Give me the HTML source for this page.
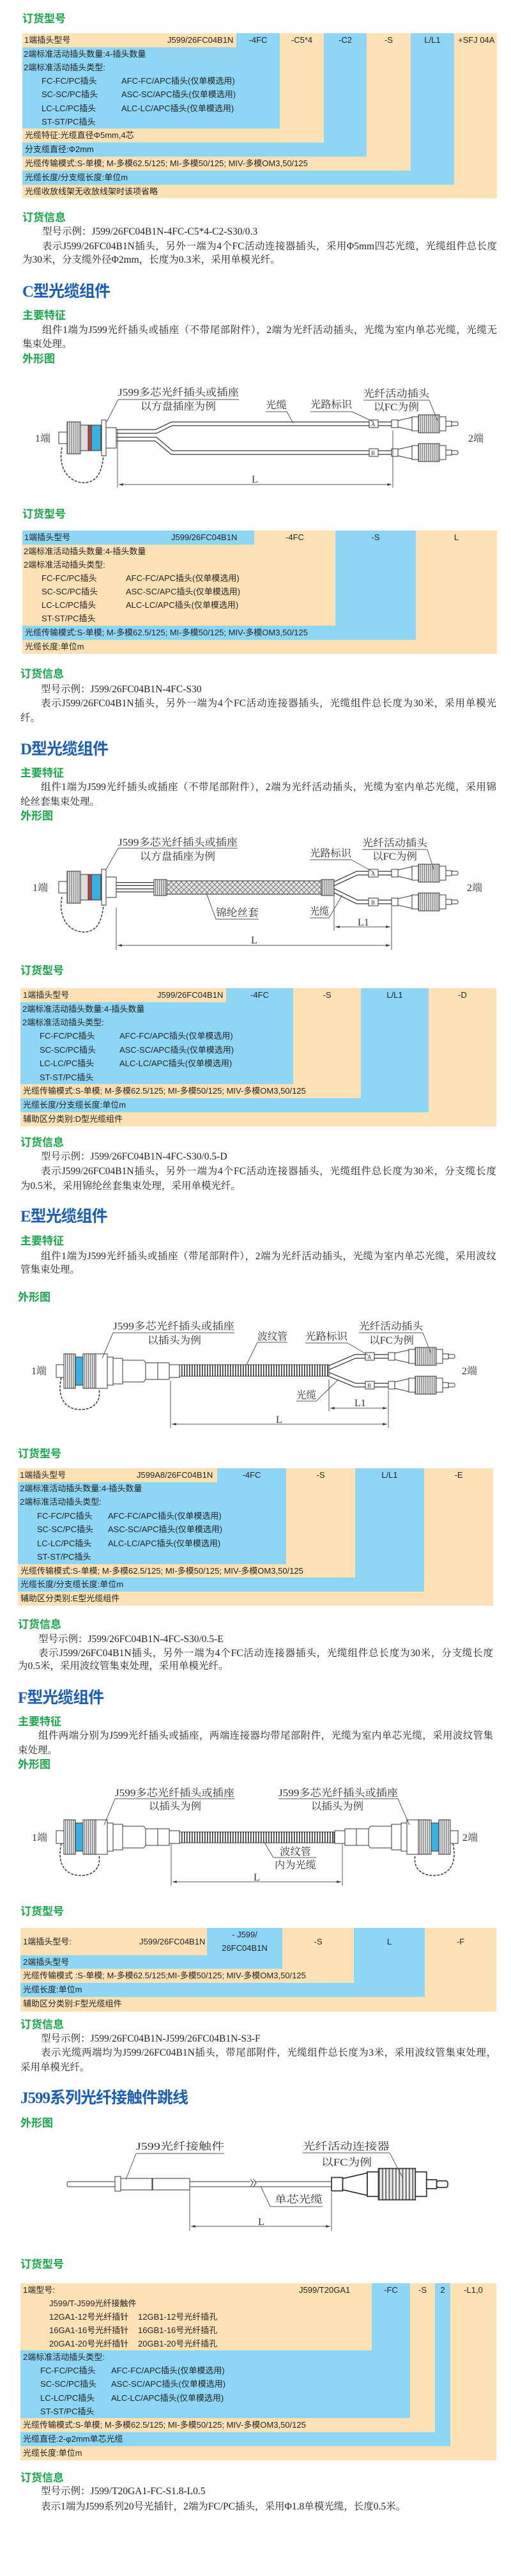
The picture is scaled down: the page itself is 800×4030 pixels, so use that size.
<!DOCTYPE html>
<html><head><meta charset="utf-8">
<style>
html,body{margin:0;padding:0;background:#fff}
body{width:800px;height:4030px;position:relative;overflow:hidden}
.p{position:absolute;font-size:15.5px;font-family:"Liberation Serif","Noto Serif CJK SC",serif;color:#222;white-space:nowrap;line-height:18px;height:18px}
.j{white-space:normal;text-align:justify;text-align-last:justify;overflow:hidden}
.g{position:absolute;font:bold 17px/20px "Liberation Sans","Noto Sans CJK SC",sans-serif;color:#19a64b;white-space:nowrap}
.b{position:absolute;font:bold 25px/30px "Liberation Serif","Noto Sans CJK SC",sans-serif;color:#1a5fb4;white-space:nowrap;letter-spacing:-1px}
.r{position:absolute}
.o{background:#fee2b6}
.u{background:#8dd6f6}
.c{position:absolute;font:13px/16px "Liberation Sans","Noto Sans CJK SC",sans-serif;color:#222;white-space:nowrap}
.m{text-align:center}
svg{position:absolute;left:0;top:0}
</style></head><body>

<!-- ===== Section 1 (top) ===== -->
<div class="g" style="left:35px;top:20px">订货型号</div>
<div class="r o" style="left:35px;top:52px;width:743px;height:258px"></div>
<div class="r u" style="left:370px;top:52px;width:68px;height:149px"></div>
<div class="r u" style="left:35px;top:74px;width:403px;height:127px"></div>
<div class="r u" style="left:507px;top:52px;width:67px;height:193px"></div>
<div class="r u" style="left:35px;top:223px;width:539px;height:22px"></div>
<div class="r u" style="left:643px;top:52px;width:68px;height:237px"></div>
<div class="r u" style="left:35px;top:267px;width:676px;height:22px"></div>
<div class="c" style="left:38px;top:55px">1端插头型号</div>
<div class="c" style="left:262px;top:55px">J599/26FC04B1N</div>
<div class="c m" style="left:370px;width:68px;top:55px">-4FC</div>
<div class="c m" style="left:438px;width:69px;top:55px">-C5*4</div>
<div class="c m" style="left:507px;width:67px;top:55px">-C2</div>
<div class="c m" style="left:574px;width:69px;top:55px">-S</div>
<div class="c m" style="left:643px;width:68px;top:55px">L/L1</div>
<div class="c" style="left:717px;top:55px">+SFJ 04A</div>
<div class="c" style="left:37px;top:77px">2端标准活动插头数量:4-插头数量</div>
<div class="c" style="left:37px;top:98px">2端标准活动插头类型:</div>
<div class="c" style="left:65px;top:119px">FC-FC/PC插头</div><div class="c" style="left:190px;top:119px">AFC-FC/APC插头(仅单模选用)</div>
<div class="c" style="left:65px;top:140px">SC-SC/PC插头</div><div class="c" style="left:190px;top:140px">ASC-SC/APC插头(仅单模选用)</div>
<div class="c" style="left:65px;top:162px">LC-LC/PC插头</div><div class="c" style="left:190px;top:162px">ALC-LC/APC插头(仅单模选用)</div>
<div class="c" style="left:65px;top:183px">ST-ST/PC插头</div>
<div class="c" style="left:39px;top:204px">光缆特征:光缆直径Φ5mm,4芯</div>
<div class="c" style="left:39px;top:226px">分支缆直径:Φ2mm</div>
<div class="c" style="left:39px;top:248px">光缆传输模式:S-单模; M-多模62.5/125; MI-多模50/125; MIV-多模OM3,50/125</div>
<div class="c" style="left:39px;top:270px">光缆长度/分支缆长度:单位m</div>
<div class="c" style="left:39px;top:292px">光缆收放线架无收放线架时该项省略</div>

<div class="g" style="left:35px;top:331px">订货信息</div>
<div class="p" style="left:66px;top:354px">型号示例：J599/26FC04B1N-4FC-C5*4-C2-S30/0.3</div>
<div class="p j" style="left:66px;top:377px;width:712px">表示J599/26FC04B1N插头，另外一端为4个FC活动连接器插头，采用Φ5mm四芯光缆，光缆组件总长度</div>
<div class="p" style="left:35px;top:398px">为30米，分支缆外径Φ2mm，长度为0.3米，采用单模光纤。</div>

<!-- ===== C ===== -->
<div class="b" style="left:35px;top:442px">C型光缆组件</div>
<div class="g" style="left:35px;top:484px">主要特征</div>
<div class="p j" style="left:66px;top:508px;width:712px">组件1端为J599光纤插头或插座（不带尾部附件），2端为光纤活动插头，光缆为室内单芯光缆，光缆无</div>
<div class="p" style="left:35px;top:530px">集束处理。</div>
<div class="g" style="left:35px;top:552px">外形图</div>

<div class="g" style="left:35px;top:795px">订货型号</div>
<div class="r o" style="left:35px;top:830px;width:743px;height:193px"></div>
<div class="r u" style="left:35px;top:830px;width:363px;height:22px"></div>
<div class="r u" style="left:525px;top:830px;width:126px;height:171px"></div>
<div class="r u" style="left:35px;top:979px;width:616px;height:22px"></div>
<div class="c" style="left:38px;top:833px">1端插头型号</div>
<div class="c" style="left:268px;top:833px">J599/26FC04B1N</div>
<div class="c m" style="left:398px;width:127px;top:833px">-4FC</div>
<div class="c m" style="left:525px;width:126px;top:833px">-S</div>
<div class="c m" style="left:651px;width:127px;top:833px">L</div>
<div class="c" style="left:37px;top:855px">2端标准活动插头数量:4-插头数量</div>
<div class="c" style="left:37px;top:876px">2端标准活动插头类型:</div>
<div class="c" style="left:65px;top:897px">FC-FC/PC插头</div><div class="c" style="left:197px;top:897px">AFC-FC/APC插头(仅单模选用)</div>
<div class="c" style="left:65px;top:918px">SC-SC/PC插头</div><div class="c" style="left:197px;top:918px">ASC-SC/APC插头(仅单模选用)</div>
<div class="c" style="left:65px;top:939px">LC-LC/PC插头</div><div class="c" style="left:197px;top:939px">ALC-LC/APC插头(仅单模选用)</div>
<div class="c" style="left:65px;top:960px">ST-ST/PC插头</div>
<div class="c" style="left:39px;top:982px">光缆传输模式:S-单模; M-多模62.5/125; MI-多模50/125; MIV-多模OM3,50/125</div>
<div class="c" style="left:39px;top:1004px">光缆长度:单位m</div>

<div class="g" style="left:32px;top:1045px">订货信息</div>
<div class="p" style="left:64px;top:1070px">型号示例：J599/26FC04B1N-4FC-S30</div>
<div class="p j" style="left:64px;top:1092px;width:713px">表示J599/26FC04B1N插头，另外一端为4个FC活动连接器插头，光缆组件总长度为30米，采用单模光</div>
<div class="p" style="left:32px;top:1115px">纤。</div>

<!-- ===== D ===== -->
<div class="b" style="left:32px;top:1158px">D型光缆组件</div>
<div class="g" style="left:32px;top:1200px">主要特征</div>
<div class="p j" style="left:64px;top:1223px;width:713px">组件1端为J599光纤插头或插座（不带尾部附件），2端为光纤活动插头，光缆为室内单芯光缆，采用锦</div>
<div class="p" style="left:32px;top:1246px">纶丝套集束处理。</div>
<div class="g" style="left:32px;top:1267px">外形图</div>

<div class="g" style="left:32px;top:1509px">订货型号</div>
<div class="r o" style="left:32px;top:1546px;width:745px;height:216px"></div>
<div class="r u" style="left:354px;top:1546px;width:105px;height:150px"></div>
<div class="r u" style="left:32px;top:1568px;width:427px;height:128px"></div>
<div class="r u" style="left:565px;top:1546px;width:106px;height:194px"></div>
<div class="r u" style="left:32px;top:1718px;width:639px;height:22px"></div>
<div class="c" style="left:36px;top:1549px">1端插头型号</div>
<div class="c" style="left:246px;top:1549px">J599/26FC04B1N</div>
<div class="c m" style="left:354px;width:105px;top:1549px">-4FC</div>
<div class="c m" style="left:459px;width:106px;top:1549px">-S</div>
<div class="c m" style="left:565px;width:106px;top:1549px">L/L1</div>
<div class="c m" style="left:671px;width:106px;top:1549px">-D</div>
<div class="c" style="left:35px;top:1571px">2端标准活动插头数量:4-插头数量</div>
<div class="c" style="left:35px;top:1592px">2端标准活动插头类型:</div>
<div class="c" style="left:62px;top:1613px">FC-FC/PC插头</div><div class="c" style="left:187px;top:1613px">AFC-FC/APC插头(仅单模选用)</div>
<div class="c" style="left:62px;top:1635px">SC-SC/PC插头</div><div class="c" style="left:187px;top:1635px">ASC-SC/APC插头(仅单模选用)</div>
<div class="c" style="left:62px;top:1656px">LC-LC/PC插头</div><div class="c" style="left:187px;top:1656px">ALC-LC/APC插头(仅单模选用)</div>
<div class="c" style="left:62px;top:1678px">ST-ST/PC插头</div>
<div class="c" style="left:36px;top:1699px">光缆传输模式:S-单模; M-多模62.5/125; MI-多模50/125; MIV-多模OM3,50/125</div>
<div class="c" style="left:36px;top:1721px">光缆长度/分支缆长度:单位m</div>
<div class="c" style="left:36px;top:1743px">辅助区分类别:D型光缆组件</div>

<div class="g" style="left:32px;top:1778px">订货信息</div>
<div class="p" style="left:64px;top:1801px">型号示例：J599/26FC04B1N-4FC-S30/0.5-D</div>
<div class="p j" style="left:64px;top:1824px;width:713px">表示J599/26FC04B1N插头，另外一端为4个FC活动连接器插头，光缆组件总长度为30米，分支缆长度</div>
<div class="p" style="left:32px;top:1847px">为0.5米，采用锦纶丝套集束处理，采用单模光纤。</div>

<!-- ===== E ===== -->
<div class="b" style="left:32px;top:1889px">E型光缆组件</div>
<div class="g" style="left:32px;top:1932px">主要特征</div>
<div class="p j" style="left:64px;top:1957px;width:713px">组件1端为J599光纤插头或插座（带尾部附件），2端为光纤活动插头，光缆为室内单芯光缆，采用波纹</div>
<div class="p" style="left:32px;top:1978px">管集束处理。</div>
<div class="g" style="left:28px;top:2020px">外形图</div>

<div class="g" style="left:28px;top:2265px">订货型号</div>
<div class="r o" style="left:28px;top:2297px;width:744px;height:215px"></div>
<div class="r u" style="left:340px;top:2297px;width:108px;height:150px"></div>
<div class="r u" style="left:28px;top:2319px;width:420px;height:128px"></div>
<div class="r u" style="left:556px;top:2297px;width:108px;height:193px"></div>
<div class="r u" style="left:28px;top:2468px;width:636px;height:22px"></div>
<div class="c" style="left:31px;top:2300px">1端插头型号</div>
<div class="c" style="left:214px;top:2300px">J599A8/26FC04B1N</div>
<div class="c m" style="left:340px;width:108px;top:2300px">-4FC</div>
<div class="c m" style="left:448px;width:108px;top:2300px">-S</div>
<div class="c m" style="left:556px;width:108px;top:2300px">L/L1</div>
<div class="c m" style="left:664px;width:108px;top:2300px">-E</div>
<div class="c" style="left:31px;top:2321px">2端标准活动插头数量:4-插头数量</div>
<div class="c" style="left:31px;top:2342px">2端标准活动插头类型:</div>
<div class="c" style="left:58px;top:2364px">FC-FC/PC插头</div><div class="c" style="left:169px;top:2364px">AFC-FC/APC插头(仅单模选用)</div>
<div class="c" style="left:58px;top:2385px">SC-SC/PC插头</div><div class="c" style="left:169px;top:2385px">ASC-SC/APC插头(仅单模选用)</div>
<div class="c" style="left:58px;top:2407px">LC-LC/PC插头</div><div class="c" style="left:169px;top:2407px">ALC-LC/APC插头(仅单模选用)</div>
<div class="c" style="left:58px;top:2428px">ST-ST/PC插头</div>
<div class="c" style="left:32px;top:2450px">光缆传输模式:S-单模; M-多模62.5/125; MI-多模50/125; MIV-多模OM3,50/125</div>
<div class="c" style="left:32px;top:2471px">光缆长度/分支缆长度:单位m</div>
<div class="c" style="left:32px;top:2493px">辅助区分类别:E型光缆组件</div>

<div class="g" style="left:28px;top:2532px">订货信息</div>
<div class="p" style="left:60px;top:2556px">型号示例：J599/26FC04B1N-4FC-S30/0.5-E</div>
<div class="p j" style="left:60px;top:2578px;width:712px">表示J599/26FC04B1N插头，另外一端为4个FC活动连接器插头，光缆组件总长度为30米，分支缆长度</div>
<div class="p" style="left:28px;top:2598px">为0.5米，采用波纹管集束处理，采用单模光纤。</div>

<!-- ===== F ===== -->
<div class="b" style="left:28px;top:2642px">F型光缆组件</div>
<div class="g" style="left:28px;top:2684px">主要特征</div>
<div class="p j" style="left:60px;top:2707px;width:712px">组件两端分别为J599光纤插头或插座，两端连接器均带尾部附件，光缆为室内单芯光缆，采用波纹管集</div>
<div class="p" style="left:28px;top:2730px">束处理。</div>
<div class="g" style="left:28px;top:2751px">外形图</div>

<div class="g" style="left:32px;top:2981px">订货型号</div>
<div class="r o" style="left:32px;top:3016px;width:745px;height:131px"></div>
<div class="r u" style="left:324px;top:3016px;width:118px;height:43px"></div>
<div class="r u" style="left:32px;top:3059px;width:410px;height:21px"></div>
<div class="r u" style="left:554px;top:3016px;width:111px;height:108px"></div>
<div class="r u" style="left:32px;top:3102px;width:633px;height:22px"></div>
<div class="c" style="left:36px;top:3030px">1端插头型号:</div>
<div class="c" style="left:218px;top:3030px">J599/26FC04B1N</div>
<div class="c m" style="left:324px;width:118px;top:3019px">- J599/</div>
<div class="c m" style="left:324px;width:118px;top:3040px">26FC04B1N</div>
<div class="c m" style="left:442px;width:112px;top:3030px">-S</div>
<div class="c m" style="left:554px;width:111px;top:3030px">L</div>
<div class="c m" style="left:665px;width:112px;top:3030px">-F</div>
<div class="c" style="left:36px;top:3062px">2端插头型号</div>
<div class="c" style="left:36px;top:3083px">光缆传输模式 :S-单模; M-多模62.5/125;MI-多模50/125; MIV-多模OM3,50/125</div>
<div class="c" style="left:36px;top:3105px">光缆长度:单位m</div>
<div class="c" style="left:36px;top:3127px">辅助区分类别:F型光缆组件</div>

<div class="g" style="left:32px;top:3158px">订货信息</div>
<div class="p" style="left:64px;top:3181px">型号示例：J599/26FC04B1N-J599/26FC04B1N-S3-F</div>
<div class="p j" style="left:64px;top:3203px;width:713px">表示光缆两端均为J599/26FC04B1N插头，带尾部附件，光缆组件总长度为3米，采用波纹管集束处理，</div>
<div class="p" style="left:32px;top:3226px">采用单模光纤。</div>

<!-- ===== J599 jumper ===== -->
<div class="b" style="left:32px;top:3268px">J599系列光纤接触件跳线</div>
<div class="g" style="left:32px;top:3312px">外形图</div>

<div class="g" style="left:32px;top:3533px">订货型号</div>
<div class="r o" style="left:32px;top:3572px;width:745px;height:277px"></div>
<div class="r u" style="left:582px;top:3572px;width:60px;height:211px"></div>
<div class="r u" style="left:32px;top:3677px;width:610px;height:106px"></div>
<div class="r u" style="left:681px;top:3572px;width:24px;height:255px"></div>
<div class="r u" style="left:32px;top:3805px;width:673px;height:22px"></div>
<div class="c" style="left:36px;top:3575px">1端型号:</div>
<div class="c" style="left:468px;top:3575px">J599/T20GA1</div>
<div class="c m" style="left:582px;width:60px;top:3575px">-FC</div>
<div class="c m" style="left:642px;width:39px;top:3575px">-S</div>
<div class="c m" style="left:681px;width:24px;top:3575px">2</div>
<div class="c m" style="left:705px;width:72px;top:3575px">-L1,0</div>
<div class="c" style="left:77px;top:3596px">J599/T-J599光纤接触件</div>
<div class="c" style="left:77px;top:3617px">12GA1-12号光纤插针</div><div class="c" style="left:216px;top:3617px">12GB1-12号光纤插孔</div>
<div class="c" style="left:77px;top:3638px">16GA1-16号光纤插针</div><div class="c" style="left:216px;top:3638px">16GB1-16号光纤插孔</div>
<div class="c" style="left:77px;top:3659px">20GA1-20号光纤插针</div><div class="c" style="left:216px;top:3659px">20GB1-20号光纤插孔</div>
<div class="c" style="left:36px;top:3680px">2端标准活动插头类型:</div>
<div class="c" style="left:63px;top:3701px">FC-FC/PC插头</div><div class="c" style="left:174px;top:3701px">AFC-FC/APC插头(仅单模选用)</div>
<div class="c" style="left:63px;top:3722px">SC-SC/PC插头</div><div class="c" style="left:174px;top:3722px">ASC-SC/APC插头(仅单模选用)</div>
<div class="c" style="left:63px;top:3744px">LC-LC/PC插头</div><div class="c" style="left:174px;top:3744px">ALC-LC/APC插头(仅单模选用)</div>
<div class="c" style="left:63px;top:3765px">ST-ST/PC插头</div>
<div class="c" style="left:36px;top:3786px">光缆传输模式:S-单模; M-多模62.5/125; MI-多模50/125; MIV-多模OM3,50/125</div>
<div class="c" style="left:36px;top:3808px">光缆直径:2-φ2mm单芯光缆</div>
<div class="c" style="left:36px;top:3830px">光缆长度:单位m</div>

<div class="g" style="left:32px;top:3867px">订货信息</div>
<div class="p" style="left:64px;top:3889px">型号示例：J599/T20GA1-FC-S1.8-L0.5</div>
<div class="p" style="left:64px;top:3913px">表示1端为J599系列20号光插针，2端为FC/PC插头，采用Φ1.8单模光缆，长度0.5米。</div>

<!-- ===== Diagrams ===== -->
<svg width="800" height="4030" viewBox="0 0 800 4030" xmlns="http://www.w3.org/2000/svg">
<defs>
 <pattern id="kn" width="3" height="10" patternUnits="userSpaceOnUse"><rect width="3" height="10" fill="#f2f2f2"/><rect width="1.3" height="10" fill="#777"/></pattern>
 <pattern id="cor" width="4" height="10" patternUnits="userSpaceOnUse"><rect width="4" height="10" fill="#fff"/><rect width="1.6" height="10" fill="#333"/></pattern>
 <pattern id="br" width="8" height="8" patternUnits="userSpaceOnUse"><rect width="8" height="8" fill="#e6e6e6"/><path d="M0,0L8,8M8,0L0,8" stroke="#666" stroke-width="0.8"/></pattern>
 <marker id="ar" viewBox="0 0 10 6" refX="10" refY="3" markerWidth="8" markerHeight="4" orient="auto-start-reverse"><path d="M0,0L10,3L0,6Z" fill="#333"/></marker>
 <g id="fc" stroke="#333" stroke-width="1">
  <rect x="0" y="-6" width="10" height="12" fill="#fff"/>
  <path d="M10,-5L32,-10L32,10L10,5Z" fill="#fff"/>
  <rect x="32" y="-11" width="10" height="22" fill="#fff"/>
  <rect x="42" y="-14" width="33" height="28" fill="url(#kn)"/>
  <rect x="75" y="-11" width="10" height="22" fill="#fff"/>
  <rect x="85" y="-4" width="9" height="8" fill="#fff"/>
  <rect x="94" y="-3" width="10" height="6" rx="2" fill="#fff"/>
 </g>
 <g id="rec" stroke="#333" stroke-width="1">
  <path d="M97,15 C90,50 110,72 135,70 C155,67 160,48 162,28" fill="none" stroke-dasharray="4,2" stroke-width="1.5"/>
  <rect x="92" y="-9" width="14" height="18" fill="#fff"/>
  <rect x="105" y="-25" width="21" height="50" fill="url(#kn)"/>
  <rect x="126" y="-20" width="12" height="40" fill="#ddd"/>
  <rect x="138" y="-20" width="5" height="40" fill="#c83c3c"/>
  <rect x="143" y="-20" width="15" height="40" fill="#3ab0e0"/>
  <rect x="159" y="-28" width="7" height="56" fill="#fff"/>
  <rect x="166" y="-16" width="16" height="32" fill="#fff"/>
 </g>
 <g id="plug" stroke="#333" stroke-width="1">
  <path d="M96,10 C88,45 105,62 130,60 C150,58 158,45 155,28" fill="none" stroke-dasharray="4,2" stroke-width="1.5"/>
  <rect x="88" y="-10" width="12" height="20" fill="#fff"/>
  <rect x="100" y="-27" width="18" height="54" fill="url(#kn)"/>
  <rect x="118" y="-22" width="12" height="44" fill="#3ab0e0"/>
  <rect x="130" y="-27" width="20" height="54" fill="url(#kn)"/>
  <rect x="150" y="-27" width="18" height="54" fill="#fff"/>
  <rect x="168" y="-22" width="9" height="44" fill="#fff"/>
  <rect x="177" y="-20" width="15" height="40" fill="#fff"/>
  <path d="M192,-17L225,-17L228,-13L228,13L225,17L192,17Z" fill="#fff"/>
  <rect x="228" y="-13" width="19" height="26" fill="#fff"/>
  <rect x="247" y="-13" width="18" height="26" fill="#fff"/>
  <rect x="265" y="-10" width="16" height="20" fill="#fff"/>
 </g>
</defs>
<g font-family="Liberation Serif, Noto Serif CJK SC, serif" font-size="16" fill="#333">
<!-- C diagram -->
<path d="M182,675L244,675L269,663L615,663M182,687L244,687L269,708L615,708" fill="none" stroke="#333" stroke-width="7"/>
<path d="M182,675L244,675L269,663L615,663M182,687L244,687L269,708L615,708" fill="none" stroke="#fff" stroke-width="4.5"/>
<use href="#rec" transform="translate(0,685)"/>
<rect x="578" y="657" width="14" height="12" fill="#fff" stroke="#333"/><text x="581" y="667" font-size="9">A</text>
<rect x="578" y="702" width="14" height="12" fill="#fff" stroke="#333"/><text x="581" y="712" font-size="9">B</text>
<use href="#fc" transform="translate(613,663)"/><use href="#fc" transform="translate(613,708)"/>
<g stroke="#555" stroke-width="1" fill="none">
 <path d="M185,625H374M185,625L167,660M416,644H449M449,644L459,662M486,644H551M551,644L585,660M569,626H672M672,626L685,658"/>
 <path d="M184,673V763M615,673V763"/>
 <path d="M186,758H613" marker-start="url(#ar)" marker-end="url(#ar)"/>
</g>
<text x="185" y="619" textLength="189" lengthAdjust="spacingAndGlyphs">J599多芯光纤插头或插座</text>
<text x="220" y="641" textLength="118" lengthAdjust="spacingAndGlyphs">以方盘插座为例</text>
<text x="416" y="639" textLength="33" lengthAdjust="spacingAndGlyphs">光缆</text>
<text x="486" y="638" textLength="65" lengthAdjust="spacingAndGlyphs">光路标识</text>
<text x="569" y="621" textLength="103" lengthAdjust="spacingAndGlyphs">光纤活动插头</text>
<text x="585" y="642" textLength="71" lengthAdjust="spacingAndGlyphs">以FC为例</text>
<text x="55" y="691">1端</text><text x="733" y="691">2端</text>
<text x="394" y="755">L</text>

<!-- D diagram -->
<path d="M182,1383H245M182,1393H245" fill="none" stroke="#333" stroke-width="6"/>
<path d="M182,1383H245M182,1393H245" fill="none" stroke="#fff" stroke-width="3.5"/>
<path d="M520,1384L559,1366L613,1366M520,1392L559,1411L613,1411" fill="none" stroke="#333" stroke-width="7"/>
<path d="M520,1384L559,1366L613,1366M520,1392L559,1411L613,1411" fill="none" stroke="#fff" stroke-width="4.5"/>
<rect x="241" y="1378" width="282" height="21" fill="url(#br)" stroke="#333"/>
<rect x="241" y="1376" width="20" height="25" fill="url(#kn)" stroke="#333"/>
<rect x="503" y="1376" width="20" height="25" fill="url(#kn)" stroke="#333"/>
<use href="#rec" transform="translate(0,1388)"/>
<rect x="577" y="1360" width="15" height="12" fill="#fff" stroke="#333"/><text x="581" y="1370" font-size="9">A</text>
<rect x="577" y="1405" width="15" height="12" fill="#fff" stroke="#333"/><text x="581" y="1415" font-size="9">B</text>
<use href="#fc" transform="translate(613,1366)"/><use href="#fc" transform="translate(613,1411)"/>
<g stroke="#555" stroke-width="1" fill="none">
 <path d="M185,1327H372M185,1327L165,1362M485,1345H550M550,1345L584,1364M567,1329H669M669,1329L679,1360M338,1438H405M338,1438L323,1397M485,1436H515M515,1436L536,1400"/>
 <path d="M523,1400V1456M613,1418V1486M182,1420V1486"/>
 <path d="M525,1450H611" marker-start="url(#ar)" marker-end="url(#ar)"/>
 <path d="M184,1479H611" marker-start="url(#ar)" marker-end="url(#ar)"/>
</g>
<text x="185" y="1323" textLength="187" lengthAdjust="spacingAndGlyphs">J599多芯光纤插头或插座</text>
<text x="219" y="1345" textLength="118" lengthAdjust="spacingAndGlyphs">以方盘插座为例</text>
<text x="485" y="1340" textLength="65" lengthAdjust="spacingAndGlyphs">光路标识</text>
<text x="567" y="1324" textLength="102" lengthAdjust="spacingAndGlyphs">光纤活动插头</text>
<text x="583" y="1345" textLength="70" lengthAdjust="spacingAndGlyphs">以FC为例</text>
<text x="338" y="1433" textLength="67" lengthAdjust="spacingAndGlyphs">锦纶丝套</text>
<text x="485" y="1431" textLength="30" lengthAdjust="spacingAndGlyphs">光缆</text>
<text x="560" y="1448">L1</text>
<text x="393" y="1476">L</text>
<text x="51" y="1394">1端</text><text x="731" y="1394">2端</text>

<!-- E diagram -->
<path d="M512,2141L556,2122L608,2122M512,2149L556,2167L608,2167" fill="none" stroke="#333" stroke-width="7"/>
<path d="M512,2141L556,2122L608,2122M512,2149L556,2167L608,2167" fill="none" stroke="#fff" stroke-width="4.5"/>
<rect x="281" y="2135" width="234" height="18" fill="url(#cor)" stroke="#333"/>
<use href="#plug" transform="translate(0,2145)"/>
<rect x="572" y="2116" width="14" height="12" fill="#fff" stroke="#333"/><text x="575" y="2126" font-size="9">A</text>
<rect x="572" y="2161" width="14" height="12" fill="#fff" stroke="#333"/><text x="575" y="2171" font-size="9">B</text>
<use href="#fc" transform="translate(608,2122)"/><use href="#fc" transform="translate(608,2167)"/>
<g stroke="#555" stroke-width="1" fill="none">
 <path d="M177,2085H367M177,2085L160,2125M403,2100H450M403,2100L385,2137M478,2101H544M544,2101L576,2120M562,2085H662M662,2085L675,2118M464,2192H495M495,2192L530,2158"/>
 <path d="M515,2158V2208M608,2175V2234M267,2160V2234"/>
 <path d="M517,2203H606" marker-start="url(#ar)" marker-end="url(#ar)"/>
 <path d="M269,2228H606" marker-start="url(#ar)" marker-end="url(#ar)"/>
</g>
<text x="177" y="2080" textLength="190" lengthAdjust="spacingAndGlyphs">J599多芯光纤插头或插座</text>
<text x="231" y="2102" textLength="84" lengthAdjust="spacingAndGlyphs">以插头为例</text>
<text x="403" y="2096" textLength="47" lengthAdjust="spacingAndGlyphs">波纹管</text>
<text x="478" y="2096" textLength="66" lengthAdjust="spacingAndGlyphs">光路标识</text>
<text x="562" y="2080" textLength="100" lengthAdjust="spacingAndGlyphs">光纤活动插头</text>
<text x="578" y="2102" textLength="70" lengthAdjust="spacingAndGlyphs">以FC为例</text>
<text x="464" y="2188" textLength="31" lengthAdjust="spacingAndGlyphs">光缆</text>
<text x="555" y="2200">L1</text>
<text x="432" y="2226">L</text>
<text x="49" y="2150">1端</text><text x="723" y="2150">2端</text>

<!-- F diagram -->
<rect x="281" y="2866" width="242" height="17" fill="url(#cor)" stroke="#333"/>
<use href="#plug" transform="translate(0,2874)"/>
<use href="#plug" transform="translate(805,2874) scale(-1,1)"/>
<g stroke="#555" stroke-width="1" fill="none">
 <path d="M180,2814H367M180,2814L163,2855M436,2814H623M623,2814L641,2855M428,2906H495M428,2906L413,2881"/>
 <path d="M268,2885V2950M536,2885V2950"/>
 <path d="M270,2944H534" marker-start="url(#ar)" marker-end="url(#ar)"/>
</g>
<text x="180" y="2810" textLength="187" lengthAdjust="spacingAndGlyphs">J599多芯光纤插头或插座</text>
<text x="233" y="2831" textLength="82" lengthAdjust="spacingAndGlyphs">以插头为例</text>
<text x="436" y="2810" textLength="187" lengthAdjust="spacingAndGlyphs">J599多芯光纤插头或插座</text>
<text x="487" y="2831" textLength="82" lengthAdjust="spacingAndGlyphs">以插头为例</text>
<text x="438" y="2902" textLength="49" lengthAdjust="spacingAndGlyphs">波纹管</text>
<text x="430" y="2923" textLength="65" lengthAdjust="spacingAndGlyphs">内为光缆</text>
<text x="397" y="2942">L</text>
<text x="50" y="2880">1端</text><text x="724" y="2880">2端</text>

<!-- J599 jumper diagram -->
<g stroke="#333" stroke-width="1">
 <rect x="105" y="3413" width="76" height="8" rx="3" fill="#fff"/>
 <rect x="180" y="3405" width="9" height="23" fill="#fff"/>
 <rect x="189" y="3408" width="49" height="18" fill="#fff"/>
 <rect x="239" y="3408" width="58" height="18" fill="#fff"/>
 <rect x="297" y="3413" width="222" height="8" fill="#fff"/>
</g>
<path d="M392,3409l4,6l-4,6M397,3409l4,6l-4,6" stroke="#333" fill="#fff"/>
<use href="#fc" transform="translate(519,3417) scale(1.75)"/>
<g stroke="#555" stroke-width="1" fill="none">
 <path d="M213,3369H351M213,3369L197,3410M474,3368H610M610,3368L631,3408M423,3452H505M423,3452L408,3420"/>
 <path d="M297,3425V3490M519,3430V3490"/>
 <path d="M299,3483H517" marker-start="url(#ar)" marker-end="url(#ar)"/>
</g>
<text x="213" y="3363" textLength="138" lengthAdjust="spacingAndGlyphs">J599光纤接触件</text>
<text x="474" y="3363" textLength="136" lengthAdjust="spacingAndGlyphs">光纤活动连接器</text>
<text x="503" y="3388" textLength="79" lengthAdjust="spacingAndGlyphs">以FC为例</text>
<text x="430" y="3446" textLength="75" lengthAdjust="spacingAndGlyphs">单芯光缆</text>
<text x="404" y="3481">L</text>
</g>
</svg>
</body></html>
